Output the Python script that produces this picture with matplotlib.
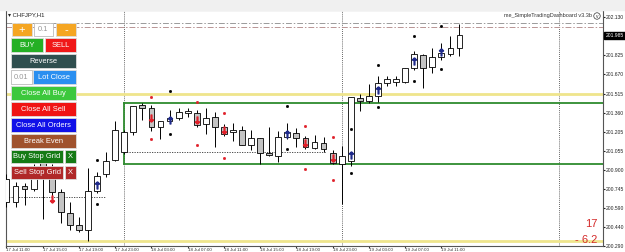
import numpy as np
import matplotlib.pyplot as plt
from matplotlib.patches import Rectangle

plt.rcParams['font.family'] = ['Liberation Sans', 'DejaVu Sans']

# =========================================================
# DATA : CHFJPY H1 candles
# =========================================================

opens = [200.641, 200.641, 200.769, 200.745, 200.986, 200.905, 200.721, 200.553, 200.456, 200.416,
         200.729, 200.865, 200.978, 201.042, 201.202, 201.419, 201.395, 201.242, 201.290, 201.322,
         201.355, 201.355, 201.266, 201.330, 201.242, 201.202, 201.218, 201.098, 201.154, 201.034,
         201.010, 201.162, 201.194, 201.154, 201.074, 201.114, 201.034, 200.946, 200.970, 201.483,
         201.459, 201.499, 201.603, 201.611, 201.611, 201.723, 201.828, 201.731, 201.812, 201.836,
         201.884]
highs = [200.865, 200.801, 200.793, 200.946, 201.026, 200.946, 200.745, 200.641, 200.521, 200.913,
         200.881, 201.042, 201.290, 201.218, 201.411, 201.443, 201.419, 201.290, 201.379, 201.395,
         201.395, 201.379, 201.395, 201.363, 201.266, 201.274, 201.250, 201.218, 201.154, 201.242,
         201.210, 201.274, 201.234, 201.170, 201.178, 201.162, 201.058, 201.090, 201.491, 201.515,
         201.595, 201.659, 201.659, 201.659, 201.723, 201.860, 201.836, 201.884, 201.924, 201.980,
         202.076]
lows = [200.601, 200.601, 200.617, 200.729, 200.504, 200.641, 200.472, 200.416, 200.400, 200.328,
        200.713, 200.841, 200.970, 201.026, 201.178, 201.306, 201.210, 201.146, 201.274, 201.306,
        201.330, 201.242, 201.186, 201.082, 201.170, 201.130, 201.098, 201.058, 200.946, 201.010,
        200.962, 201.146, 201.082, 201.066, 201.066, 201.042, 200.946, 200.625, 200.930, 201.371,
        201.443, 201.451, 201.579, 201.579, 201.603, 201.707, 201.563, 201.683, 201.788, 201.820,
        201.820]
closes = [200.825, 200.769, 200.745, 200.905, 200.841, 200.721, 200.561, 200.456, 200.416, 200.729,
          200.849, 200.970, 201.218, 201.202, 201.411, 201.395, 201.242, 201.290, 201.322, 201.363,
          201.371, 201.258, 201.322, 201.242, 201.186, 201.218, 201.098, 201.154, 201.034, 201.018,
          201.162, 201.202, 201.154, 201.082, 201.122, 201.066, 200.954, 201.010, 201.491, 201.459,
          201.499, 201.603, 201.635, 201.635, 201.723, 201.836, 201.723, 201.812, 201.844, 201.884,
          201.988]

# signal arrows and their dots
buy_idx = [10, 18, 31, 38, 41, 45, 48]
buy_arrow = [200.777, 201.306, 201.186, 201.018, 201.547, 201.780, 201.852]
buy_dot_hi = [200.978, 201.539, 201.411, 201.226, 201.747, 201.980, 202.060]
buy_dot_lo = [200.625, 201.186, 201.066, 200.874, 201.403, 201.619, 201.715]

sell_idx = [5, 16, 21, 24, 33, 36]
sell_arrow = [200.665, 201.322, 201.306, 201.218, 201.114, 200.994]
sell_dot_hi = [np.nan, 201.491, 201.451, 201.355, 201.250, 201.162]
sell_dot_lo = [np.nan, 201.146, 201.098, 200.994, 200.905, 200.817]

# levels
yellow_levels = [201.515, 200.330]
box_top = 201.443
box_bottom = 200.946
box_start = 13
dash_levels = [(200.681, 0, 11), (201.042, 13, 35.3)]
top_levels = [202.082, 202.052]
separators = [13, 37, 61]

price_ticks = [202.130, 201.825, 201.670, 201.515, 201.360, 201.205, 201.055,
               200.900, 200.745, 200.590, 200.440, 200.290]
current_price = 201.985

time_idx = [0, 4, 8, 12, 16, 20, 24, 28, 32, 36, 40, 44, 48]
time_labels = ["17 Jul 11:00", "17 Jul 15:00", "17 Jul 19:00", "17 Jul 23:00",
               "18 Jul 03:00", "18 Jul 07:00", "18 Jul 11:00", "18 Jul 15:00",
               "18 Jul 19:00", "18 Jul 23:00", "19 Jul 03:00", "19 Jul 07:00",
               "19 Jul 11:00"]

# =========================================================
# FIGURE
# =========================================================

W, H = 625, 252
fig = plt.figure(figsize=(W / 100, H / 100), dpi=100)
fig.patch.set_facecolor("white")

ax = fig.add_axes([6 / W, (H - 245.5) / H, (603 - 6) / W, (245.5 - 10) / H])
ax.set_facecolor("white")

x = np.arange(len(opens))
o = np.array(opens)
c = np.array(closes)
up = c >= o

# wicks + bodies
ax.vlines(x, lows, highs, color="black", linewidth=0.7, zorder=3)
ax.bar(x, np.abs(c - o), bottom=np.minimum(o, c), width=0.64,
       color=np.where(up, "white", "#c4c4c4"), edgecolor="black",
       linewidth=0.6, zorder=4)

# period separators
for s in separators:
    ax.axvline(s, color="#333333", linestyle=(0, (1, 1.5)), linewidth=0.6, zorder=2)

# horizontal levels
for lv in yellow_levels:
    ax.axhline(lv, color="#efe58c", linewidth=2.0, zorder=2)
ax.plot([box_start, 70], [box_top, box_top], color="#2e8b2e", linewidth=1.3, zorder=2)
ax.plot([box_start, 70], [box_bottom, box_bottom], color="#2e8b2e", linewidth=1.3, zorder=2)
ax.plot([box_start, box_start], [box_bottom, box_top], color="#2e8b2e", linewidth=1.3, zorder=2)
for lv, a, b in dash_levels:
    ax.plot([a, b], [lv, lv], color="#333333", linestyle=(0, (1.5, 1.5)), linewidth=0.6, zorder=2)
ax.axhline(top_levels[0], color="#9a9a9a", linestyle=(0, (6, 2, 1.5, 2)), linewidth=0.7)
ax.axhline(top_levels[1], color="#b89494", linestyle=(0, (6, 2, 1.5, 2)), linewidth=0.7)

# signals
ax.plot(buy_idx, buy_arrow, linestyle="none", marker=r"$\uparrow$",
        markersize=5, color="#1f2a8a", zorder=6)
ax.plot(buy_idx, buy_dot_hi, "s", markersize=1.0, color="black", zorder=6)
ax.plot(buy_idx, buy_dot_lo, "s", markersize=1.0, color="black", zorder=6)
ax.plot(sell_idx, sell_arrow, linestyle="none", marker=r"$\downarrow$",
        markersize=5, color="#e0202a", zorder=6)
ax.plot(sell_idx, sell_dot_hi, "s", markersize=1.0, color="#e0202a", zorder=6)
ax.plot(sell_idx, sell_dot_lo, "s", markersize=1.0, color="#e0202a", zorder=6)

ax.set_xlim(-0.05, (603 - 6.5) / 9.06)
ax.set_ylim(200.296, 202.189)

# price axis
ax.yaxis.tick_right()
ax.set_yticks(price_ticks)
ax.set_yticklabels([f"{p:.3f}" for p in price_ticks])
ax.tick_params(axis="y", labelsize=3.6, length=1.5, pad=0.8, colors="#222222")
ax.annotate(f"{current_price:.3f}", xy=(1.0, current_price),
            xycoords=("axes fraction", "data"), xytext=(1.6, 0),
            textcoords="offset points", va="center", ha="left",
            fontsize=3.6, color="white",
            bbox=dict(boxstyle="square,pad=0.25", fc="black", ec="black"))

# time axis
ax.set_xticks(time_idx)
ax.set_xticklabels(time_labels, ha="left")
ax.tick_params(axis="x", labelsize=3.2, length=1.5, pad=0.3, colors="#333333")

for sp in ax.spines.values():
    sp.set_color("#555555")
    sp.set_linewidth(0.8)

# =========================================================
# OVERLAY : dashboard panel and texts (pixel coords)
# =========================================================

ov = fig.add_axes([0, 0, 1, 1], zorder=5)
ov.set_xlim(0, W)
ov.set_ylim(H, 0)
ov.axis("off")
ov.patch.set_alpha(0)

ov.add_patch(Rectangle((0, 0), W, 9.5, color="#f0f0f0"))

ov.text(8, 15, "\u25be CHFJPY,H1", fontsize=4.3, color="#222222", va="center")
ov.text(592, 16, "me_SimpleTradingDashboard v3.3b", fontsize=4, color="#333333",
        va="center", ha="right")
ov.text(597, 16, "v", fontsize=3.5, color="#333333", va="center", ha="center",
        bbox=dict(boxstyle="circle,pad=0.15", fc="white", ec="#333333", lw=0.5))

buttons = [
    ("+", 12, 23, 20, 13, "#f5a623", "white"),
    ("0.1", 34, 23, 19, 13, "white", "#999999"),
    ("-", 56, 23, 20, 13, "#f5a623", "white"),
    ("BUY", 11, 38, 32, 14, "#25b025", "white"),
    ("SELL", 45, 38, 31, 14, "#f01818", "white"),
    ("Reverse", 11, 54, 65, 14, "#2f4f4f", "white"),
    ("0.01", 11, 70, 21, 14, "white", "#999999"),
    ("Lot Close", 33, 70, 43, 14, "#2a8ff0", "white"),
    ("Close All Buy", 11, 86, 65, 14, "#3cc83c", "white"),
    ("Close All Sell", 11, 102, 65, 14, "#f01414", "white"),
    ("Close All Orders", 11, 118, 65, 14, "#1010e8", "white"),
    ("Break Even", 11, 134, 65, 14, "#a0522d", "white"),
    ("Buy Stop Grid", 11, 150, 52, 13, "#157a15", "white"),
    ("X", 65, 150, 11, 13, "#157a15", "white"),
    ("Sell Stop Grid", 11, 166, 52, 13, "#b02828", "white"),
    ("X", 65, 166, 11, 13, "#b02828", "white"),
]

for label, bx, by, bw, bh, fc, tc in buttons:
    ec = "#bbbbbb" if fc == "white" else "#dddddd"
    ov.add_patch(Rectangle((bx, by), bw, bh, facecolor=fc, edgecolor=ec, linewidth=0.6))
    fs = 8 if label in ("+", "-") else 5.4
    ov.text(bx + bw / 2, by + bh / 2 + 0.3, label, fontsize=fs, color=tc,
            ha="center", va="center")

ov.text(597, 224, "17", fontsize=8, color="#d42a2a", ha="right", va="center")
ov.text(597, 240, "- 6.2", fontsize=8, color="#d42a2a", ha="right", va="center")

fig.savefig("out.png", dpi=100)
